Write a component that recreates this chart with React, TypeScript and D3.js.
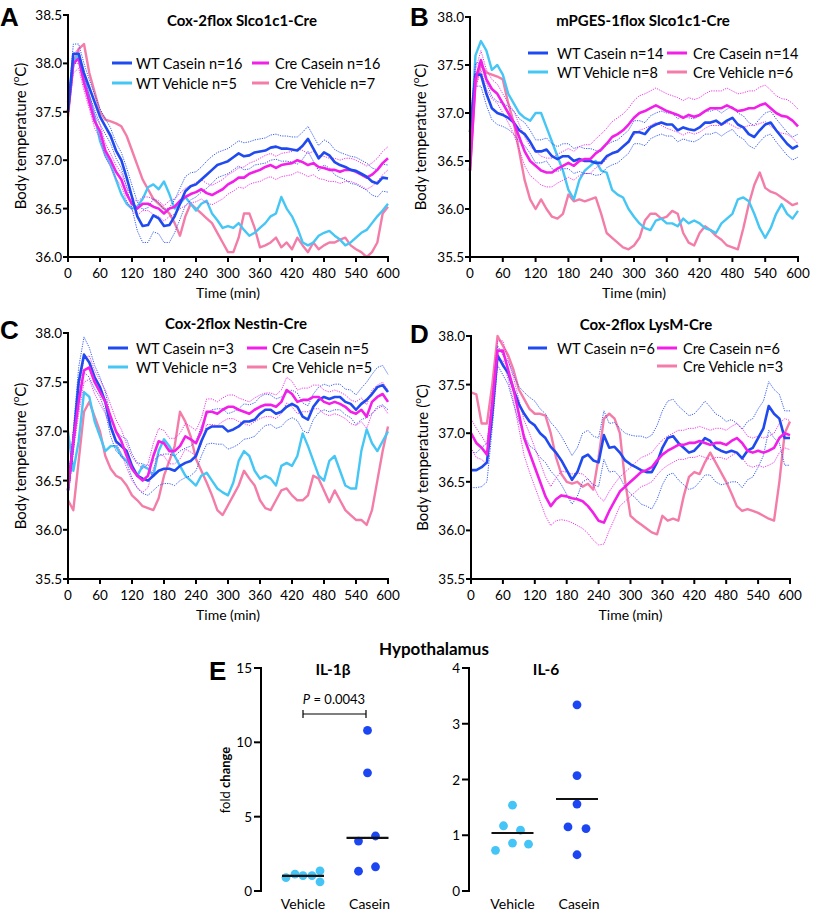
import React from 'react';
import * as d3 from 'd3';

// ---------- DATA ----------
const timeMin = d3.range(0, 601, 10);
const timeTicks = [0, 60, 120, 180, 240, 300, 360, 420, 480, 540, 600];
const tempTicksA = [36.0, 36.5, 37.0, 37.5, 38.0, 38.5];
const tempTicksBCD = [35.5, 36.0, 36.5, 37.0, 37.5, 38.0];

// Panel A: Cox-2flox Slco1c1-Cre
const aWtCasein = [
  37.5, 38.1, 38.1, 37.9, 37.75, 37.6, 37.45, 37.35, 37.25, 37.1,
  37.0, 36.82, 36.62, 36.42, 36.32, 36.33, 36.43, 36.4, 36.32, 36.33,
  36.42, 36.55, 36.68, 36.73, 36.75, 36.8, 36.85, 36.9, 36.95, 36.97,
  36.99, 37.03, 37.07, 37.04, 37.05, 37.08, 37.09, 37.1, 37.13, 37.14,
  37.12, 37.12, 37.11, 37.1, 37.15, 37.22, 37.12, 37.02, 37.08, 37.05,
  36.98, 36.95, 36.93, 36.9, 36.89, 36.86, 36.83, 36.78, 36.76, 36.82,
  36.81,
];
const aWtCaseinSem = [
  0.05, 0.1, 0.1, 0.1, 0.08, 0.08, 0.08, 0.08, 0.08, 0.08,
  0.08, 0.1, 0.12, 0.15, 0.17, 0.18, 0.17, 0.16, 0.17, 0.18,
  0.17, 0.16, 0.15, 0.14, 0.13, 0.13, 0.14, 0.14, 0.13, 0.13,
  0.13, 0.13, 0.13, 0.14, 0.14, 0.13, 0.13, 0.13, 0.13, 0.13,
  0.13, 0.13, 0.13, 0.14, 0.14, 0.13, 0.13, 0.13, 0.13, 0.13,
  0.13, 0.13, 0.13, 0.14, 0.14, 0.14, 0.14, 0.14, 0.14, 0.14,
  0.14,
];
const aCreCasein = [
  37.5, 38.0, 38.05, 37.8, 37.6, 37.4, 37.3, 37.1, 37.0, 36.88,
  36.8, 36.65, 36.55, 36.5, 36.55, 36.55, 36.52, 36.5, 36.45, 36.5,
  36.52, 36.58, 36.62, 36.65, 36.67, 36.7, 36.66, 36.64, 36.67, 36.7,
  36.75, 36.78, 36.82, 36.82, 36.86, 36.88, 36.9, 36.93, 36.95, 36.92,
  36.95, 36.96, 36.97, 37.0, 36.98, 36.95, 36.97, 36.93, 36.92, 36.9,
  36.9, 36.88, 36.9, 36.9, 36.88, 36.85, 36.82, 36.85, 36.9, 36.97,
  37.02,
];
const aCreCaseinSem = [
  0.05, 0.1, 0.1, 0.08, 0.07, 0.07, 0.07, 0.07, 0.07, 0.07,
  0.07, 0.07, 0.07, 0.07, 0.07, 0.07, 0.08, 0.08, 0.08, 0.08,
  0.08, 0.08, 0.09, 0.09, 0.1, 0.1, 0.1, 0.1, 0.1, 0.1,
  0.1, 0.1, 0.1, 0.11, 0.11, 0.11, 0.12, 0.12, 0.12, 0.12,
  0.12, 0.12, 0.12, 0.12, 0.12, 0.12, 0.12, 0.12, 0.12, 0.12,
  0.12, 0.12, 0.12, 0.12, 0.12, 0.12, 0.12, 0.12, 0.12, 0.12,
  0.12,
];
const aWtVehicle = [
  37.6, 38.0, 38.1, 37.85, 37.65, 37.45, 37.2, 37.05, 36.95, 36.8,
  36.65, 36.55, 36.5, 36.52, 36.6, 36.72, 36.75, 36.7, 36.78, 36.65,
  36.5, 36.55, 36.62, 36.55, 36.48, 36.55, 36.58, 36.45, 36.38, 36.3,
  36.32, 36.3, 36.35, 36.28, 36.22, 36.25, 36.3, 36.35, 36.42, 36.45,
  36.62, 36.5, 36.42, 36.3, 36.15, 36.12, 36.15, 36.22, 36.25, 36.27,
  36.22, 36.18, 36.12, 36.15, 36.2, 36.25, 36.28, 36.35, 36.42, 36.48,
  36.55,
];
const aCreVehicle = [
  37.45, 38.0, 38.15, 38.2, 37.9, 37.7, 37.5, 37.42, 37.4, 37.38,
  37.35, 37.25, 37.1, 36.95, 36.8, 36.7, 36.6, 36.55, 36.5, 36.45,
  36.35, 36.22, 36.42, 36.55, 36.5, 36.45, 36.4, 36.35, 36.25, 36.15,
  36.05, 36.05, 36.2, 36.45, 36.45, 36.3, 36.1, 36.12, 36.15, 36.2,
  36.1, 36.15, 36.08, 36.2, 36.12, 36.05, 36.15, 36.08, 36.12, 36.15,
  36.15, 36.18, 36.2, 36.12, 36.08, 36.05, 36.0, 36.05, 36.15, 36.45,
  36.52,
];

// Panel B: mPGES-1flox Slco1c1-Cre
const bWtCasein = [
  36.8, 37.4, 37.4, 37.2, 37.05, 37.0, 36.98, 36.95, 36.9, 36.82,
  36.78, 36.7, 36.6, 36.6, 36.62, 36.55, 36.52, 36.55, 36.55, 36.5,
  36.52, 36.5, 36.5, 36.48, 36.48, 36.55, 36.58, 36.6, 36.65, 36.7,
  36.8, 36.8, 36.78, 36.85, 36.88, 36.9, 36.88, 36.88, 36.82, 36.85,
  36.83, 36.82, 36.85, 36.9, 36.9, 36.92, 36.88, 36.92, 36.95, 36.88,
  36.85, 36.78, 36.75, 36.82, 36.88, 36.9, 36.82, 36.75, 36.68, 36.63,
  36.66,
];
const bWtCaseinSem = [
  0.05, 0.12, 0.12, 0.12, 0.12, 0.12, 0.12, 0.12, 0.12, 0.12,
  0.12, 0.12, 0.12, 0.12, 0.12, 0.13, 0.13, 0.13, 0.13, 0.13,
  0.13, 0.13, 0.13, 0.13, 0.12, 0.12, 0.12, 0.12, 0.12, 0.12,
  0.12, 0.12, 0.12, 0.12, 0.12, 0.12, 0.12, 0.12, 0.12, 0.12,
  0.12, 0.12, 0.12, 0.12, 0.12, 0.12, 0.12, 0.12, 0.12, 0.12,
  0.12, 0.12, 0.12, 0.12, 0.12, 0.12, 0.12, 0.12, 0.12, 0.12,
  0.12,
];
const bCreCasein = [
  36.4, 37.35, 37.55, 37.35, 37.25, 37.2, 37.1, 37.0, 36.9, 36.75,
  36.6, 36.5, 36.45, 36.4, 36.38, 36.38, 36.42, 36.45, 36.48, 36.45,
  36.5, 36.52, 36.52, 36.58, 36.62, 36.68, 36.75, 36.78, 36.82, 36.88,
  36.95, 37.0, 37.02, 37.05, 37.08, 37.05, 37.02, 37.0, 36.98, 36.95,
  36.98, 36.96, 36.98, 37.02, 37.05, 37.05, 37.05, 37.08, 37.05, 37.02,
  37.03, 37.05, 37.05, 37.08, 37.1, 37.05, 37.0, 36.97, 36.96, 36.92,
  36.86,
];
const bCreCaseinSem = [
  0.05, 0.1, 0.1, 0.1, 0.1, 0.1, 0.1, 0.1, 0.12, 0.13,
  0.15, 0.15, 0.15, 0.15, 0.15, 0.15, 0.15, 0.15, 0.15, 0.15,
  0.15, 0.15, 0.15, 0.15, 0.16, 0.16, 0.16, 0.17, 0.17, 0.17,
  0.18, 0.18, 0.18, 0.18, 0.18, 0.18, 0.18, 0.18, 0.18, 0.18,
  0.18, 0.18, 0.18, 0.18, 0.18, 0.18, 0.18, 0.18, 0.18, 0.18,
  0.18, 0.18, 0.18, 0.19, 0.19, 0.19, 0.18, 0.18, 0.18, 0.18,
  0.18,
];
const bWtVehicle = [
  36.6, 37.6, 37.75, 37.65, 37.45, 37.5, 37.4, 37.2, 37.1, 37.0,
  36.95, 36.92, 37.0, 37.0, 36.85, 36.7, 36.55, 36.4, 36.2, 36.1,
  36.3, 36.4, 36.45, 36.5, 36.4, 36.38, 36.2, 36.15, 36.12, 36.0,
  35.92, 35.85, 35.8, 35.78, 35.88, 35.9, 35.85, 35.85, 35.82, 35.9,
  35.85, 35.88, 35.85, 35.8, 35.78, 35.75, 35.85, 35.9, 35.95, 36.1,
  36.12, 36.08, 35.95, 35.8, 35.7, 35.8, 35.95, 36.05, 35.95, 35.9,
  35.98,
];
const bCreVehicle = [
  36.4, 37.3, 37.5, 37.42, 37.4, 37.38, 37.35, 37.1, 36.9, 36.6,
  36.3, 36.1, 36.0, 36.1, 36.0, 35.92, 35.9, 35.95, 36.15, 36.08,
  36.1, 36.08, 36.1, 36.12, 35.95, 35.75, 35.7, 35.65, 35.6, 35.58,
  35.62, 35.7, 35.88, 35.95, 35.95, 35.9, 35.92, 35.98, 35.95, 35.75,
  35.65, 35.62, 35.75, 35.82, 35.78, 35.72, 35.68, 35.62, 35.6, 35.58,
  35.8, 36.05, 36.25, 36.38, 36.22, 36.18, 36.16, 36.12, 36.08, 36.04,
  36.06,
];

// Panel C: Cox-2flox Nestin-Cre
const cWtCasein = [
  36.4, 36.9, 37.5, 37.78, 37.7, 37.55, 37.45, 37.3, 37.05, 36.9,
  36.85, 36.8, 36.65, 36.55, 36.52, 36.5, 36.55, 36.6, 36.62, 36.62,
  36.6, 36.65, 36.68, 36.7, 36.75, 36.9, 37.02, 37.05, 37.05, 37.05,
  37.0, 37.02, 37.05, 37.1, 37.1, 37.12, 37.18, 37.22, 37.22, 37.18,
  37.2, 37.25, 37.28, 37.25, 37.15, 37.12, 37.25, 37.32, 37.35, 37.33,
  37.35, 37.35, 37.3, 37.28, 37.22, 37.28, 37.32, 37.38, 37.45, 37.47,
  37.4,
];
const cWtCaseinSem = [
  0.05, 0.12, 0.15, 0.18, 0.15, 0.12, 0.1, 0.1, 0.1, 0.1,
  0.1, 0.12, 0.12, 0.13, 0.15, 0.15, 0.15, 0.15, 0.15, 0.15,
  0.15, 0.15, 0.15, 0.15, 0.15, 0.15, 0.15, 0.17, 0.18, 0.18,
  0.18, 0.18, 0.18, 0.18, 0.17, 0.17, 0.17, 0.16, 0.15, 0.15,
  0.15, 0.14, 0.14, 0.14, 0.14, 0.14, 0.13, 0.13, 0.13, 0.13,
  0.13, 0.13, 0.13, 0.14, 0.15, 0.16, 0.18, 0.2, 0.2, 0.2,
  0.18,
];
const cCreCasein = [
  36.4, 36.9, 37.3, 37.62, 37.65, 37.5, 37.4, 37.3, 37.15, 37.0,
  36.9, 36.75, 36.62, 36.55, 36.5, 36.55, 36.75, 36.9, 36.88, 36.8,
  36.8, 36.85, 36.95, 36.92, 36.88, 37.0, 37.2, 37.2, 37.18, 37.22,
  37.25, 37.25, 37.22, 37.2, 37.18, 37.22, 37.25, 37.27, 37.27, 37.25,
  37.3, 37.42, 37.38, 37.3, 37.32, 37.32, 37.35, 37.35, 37.3, 37.28,
  37.3, 37.28, 37.25, 37.2, 37.18, 37.22, 37.15, 37.3, 37.35, 37.38,
  37.3,
];
const cCreCaseinSem = [
  0.05, 0.1, 0.12, 0.12, 0.12, 0.12, 0.12, 0.12, 0.12, 0.12,
  0.12, 0.12, 0.12, 0.12, 0.12, 0.12, 0.13, 0.13, 0.13, 0.13,
  0.13, 0.13, 0.13, 0.13, 0.13, 0.13, 0.13, 0.13, 0.12, 0.12,
  0.12, 0.12, 0.12, 0.12, 0.12, 0.12, 0.12, 0.12, 0.12, 0.12,
  0.12, 0.13, 0.13, 0.12, 0.12, 0.12, 0.12, 0.12, 0.12, 0.12,
  0.12, 0.12, 0.12, 0.12, 0.12, 0.12, 0.12, 0.12, 0.12, 0.12,
  0.12,
];
const cWtVehicle = [
  37.0, 36.6, 36.9, 37.4, 37.35, 37.1, 36.95, 36.8, 36.85, 36.85,
  36.75, 36.7, 36.62, 36.55, 36.65, 36.62, 36.55, 36.8, 36.92, 36.85,
  36.75, 36.65, 36.55, 36.5, 36.45, 36.55, 36.58, 36.5, 36.42, 36.38,
  36.35, 36.48, 36.7, 36.8, 36.75, 36.6, 36.52, 36.55, 36.52, 36.45,
  36.65, 36.68, 36.65, 36.75, 36.98, 36.85, 36.7, 36.55, 36.5, 36.7,
  36.75, 36.6, 36.45, 36.42, 36.42, 36.8, 37.02, 36.88, 36.8, 36.9,
  37.0,
];
const cCreVehicle = [
  36.3, 36.2, 36.7, 37.2, 37.3, 37.15, 37.0, 36.75, 36.62, 36.55,
  36.52, 36.45, 36.35, 36.3, 36.24, 36.22, 36.2, 36.32, 36.55, 36.7,
  36.85, 37.2, 37.1, 36.95, 36.72, 36.6, 36.48, 36.35, 36.2, 36.15,
  36.25, 36.35, 36.45, 36.6, 36.52, 36.45, 36.3, 36.22, 36.2, 36.3,
  36.4, 36.42, 36.35, 36.3, 36.3, 36.35, 36.55, 36.52, 36.4, 36.28,
  36.4, 36.3, 36.2, 36.15, 36.1, 36.1, 36.05, 36.2, 36.5, 36.8,
  37.05,
];

// Panel D: Cox-2flox LysM-Cre
const dWtCasein = [
  36.62, 36.62, 36.65, 36.7, 37.2, 37.8, 37.7, 37.62, 37.45, 37.3,
  37.2, 37.12, 37.08, 37.0, 36.95, 36.86, 36.8, 36.72, 36.62, 36.52,
  36.6, 36.75, 36.78, 36.72, 36.7, 36.98, 36.85, 36.86, 36.8, 36.72,
  36.68, 36.65, 36.62, 36.6, 36.6, 36.7, 36.85, 36.95, 36.97, 36.9,
  36.85, 36.8, 36.82, 36.88, 36.95, 36.92, 36.85, 36.82, 36.8, 36.82,
  36.8, 36.74, 36.82, 36.85, 36.95, 37.05, 37.28, 37.2, 37.15, 36.95,
  36.95,
];
const dWtCaseinSem = [
  0.18, 0.18, 0.2, 0.2, 0.15, 0.1, 0.1, 0.12, 0.15, 0.18,
  0.22, 0.25, 0.25, 0.25, 0.25, 0.25, 0.25, 0.25, 0.25, 0.25,
  0.25, 0.25, 0.25, 0.25, 0.25, 0.25, 0.25, 0.25, 0.25, 0.28,
  0.3, 0.32, 0.35, 0.35, 0.38, 0.38, 0.38, 0.38, 0.38, 0.38,
  0.38, 0.38, 0.38, 0.38, 0.38, 0.35, 0.35, 0.35, 0.32, 0.32,
  0.3, 0.3, 0.3, 0.3, 0.3, 0.28, 0.25, 0.25, 0.25, 0.28,
  0.28,
];
const dCreCasein = [
  37.0, 36.9, 36.85, 36.78, 37.3, 37.85, 37.85, 37.65, 37.45, 37.2,
  36.95, 36.8, 36.65, 36.5, 36.35, 36.25, 36.32, 36.36, 36.35, 36.33,
  36.32, 36.3, 36.25, 36.18, 36.1, 36.08, 36.2, 36.3, 36.4, 36.45,
  36.5, 36.55, 36.6, 36.62, 36.65, 36.72, 36.78, 36.82, 36.85, 36.88,
  36.88, 36.9, 36.9, 36.92, 36.9, 36.88, 36.9, 36.9, 36.88, 36.92,
  36.95, 36.9, 36.82, 36.8, 36.82, 36.8, 36.82, 36.85, 36.95, 37.0,
  36.98,
];
const dCreCaseinSem = [
  0.15, 0.15, 0.12, 0.1, 0.1, 0.1, 0.1, 0.1, 0.12, 0.15,
  0.18, 0.2, 0.2, 0.2, 0.2, 0.2, 0.22, 0.25, 0.25, 0.25,
  0.27, 0.28, 0.28, 0.28, 0.25, 0.22, 0.2, 0.18, 0.15, 0.15,
  0.15, 0.15, 0.15, 0.15, 0.15, 0.15, 0.15, 0.15, 0.15, 0.15,
  0.15, 0.15, 0.15, 0.15, 0.15, 0.15, 0.15, 0.15, 0.15, 0.15,
  0.15, 0.15, 0.15, 0.15, 0.15, 0.15, 0.15, 0.15, 0.15, 0.15,
  0.15,
];
const dCreVehicle = [
  37.42, 37.4, 37.1, 37.1, 37.5, 38.0, 37.9, 37.8, 37.65, 37.45,
  37.35, 37.25, 37.2, 37.2, 37.18, 37.0, 36.75, 36.58, 36.5, 36.48,
  36.5, 36.45, 36.48, 36.42, 36.75, 37.15, 37.2, 37.15, 37.0, 36.5,
  36.15, 36.1, 36.06, 36.02, 35.98, 35.96, 36.15, 36.1, 36.12, 36.1,
  36.35, 36.55, 36.6, 36.58, 36.7, 36.8, 36.7, 36.6, 36.5, 36.38,
  36.25, 36.2, 36.22, 36.2, 36.18, 36.15, 36.12, 36.1, 36.5, 37.0,
  37.12,
];

// Panel E: Hypothalamus fold change
const groups = ['Vehicle', 'Casein'];
const il1bVehicle = [0.9, 1.13, 1.04, 1.04, 1.36, 0.62];
const il1bCasein = [10.8, 7.95, 3.36, 3.7, 1.63, 1.33];
const il1bMedians = [1.02, 3.58];
const il1bTicks = [0, 5, 10, 15];
const il6Vehicle = [0.73, 1.17, 1.54, 0.86, 1.09, 0.84];
const il6Casein = [3.34, 2.07, 1.56, 1.15, 1.12, 0.65];
const il6Medians = [1.04, 1.65];
const il6Ticks = [0, 1, 2, 3, 4];

// ---------- STYLE ----------
const FONT = 'Lato, "Open Sans", "Liberation Sans", sans-serif';
const BLUE = '#1f4af0';
const CYAN = '#45c6f5';
const MAGENTA = '#f21fe8';
const PINK = '#f47ca8';
const DOT_VEH = '#45c4f6';
const DOT_CAS = '#1b46f2';

type Series = { values: number[]; color: string; sem?: number[] };
type LegendItem = { label: string; color: string; col: number; row: number };

type PanelProps = {
  letter: string;
  letterY: number;
  letterX: number;
  title: string;
  titleX: number;
  titleY: number;
  xRange: [number, number];
  yRange: [number, number];
  domain: [number, number];
  yTicks: number[];
  series: Series[];
  legend: LegendItem[];
  legendCols: { lineX: number; lineW: number; textX: number }[];
  legendRows: number[];
  yLabelX: number;
};

function TempPanel(p: PanelProps) {
  const x = d3.scaleLinear().domain([0, 600]).range(p.xRange);
  const y = d3.scaleLinear().domain(p.domain).range(p.yRange);
  const line = (vals: number[]) =>
    d3
      .line<number>()
      .x((_, i) => x(timeMin[i]))
      .y((d) => y(d))(vals) || '';
  const x0 = p.xRange[0];
  const yb = p.yRange[0];
  const yt = p.yRange[1];
  const xr = p.xRange[1];
  const semSeries = p.series.filter((s) => s.sem);
  return (
    <g>
      <text x={p.letterX} y={p.letterY} fontFamily='"Liberation Sans", Arial, sans-serif' fontWeight="bold" fontSize={26}>
        {p.letter}
      </text>
      <text x={p.titleX} y={p.titleY} textAnchor="middle" dominantBaseline="central" fontFamily={FONT} fontWeight="bold" fontSize={15}>
        {p.title}
      </text>
      {p.series
        .filter((s) => !s.sem)
        .map((s, i) => (
          <path key={'v' + i} d={line(s.values)} fill="none" stroke={s.color} strokeWidth={2.4} strokeLinejoin="round" />
        ))}
      {semSeries.map((s, i) => (
        <g key={'s' + i}>
          <path d={line(s.values.map((v, j) => v + (s.sem as number[])[j]))} fill="none" stroke={s.color} strokeWidth={0.9} strokeDasharray="1.2 1.2" />
          <path d={line(s.values.map((v, j) => v - (s.sem as number[])[j]))} fill="none" stroke={s.color} strokeWidth={0.9} strokeDasharray="1.2 1.2" />
        </g>
      ))}
      {semSeries.map((s, i) => (
        <path key={'c' + i} d={line(s.values)} fill="none" stroke={s.color} strokeWidth={2.6} strokeLinejoin="round" />
      ))}
      <line x1={x0} x2={x0} y1={yt - 1} y2={yb + 1} stroke="#000" strokeWidth={2} />
      <line x1={x0 - 1} x2={xr + 1} y1={yb} y2={yb} stroke="#000" strokeWidth={2} />
      {p.yTicks.map((t) => (
        <g key={'yt' + t}>
          <line x1={x0 - 5} x2={x0} y1={y(t)} y2={y(t)} stroke="#000" strokeWidth={2} />
          <text x={x0 - 6} y={y(t)} textAnchor="end" dominantBaseline="central" fontFamily={FONT} fontSize={13.5}>
            {t.toFixed(1)}
          </text>
        </g>
      ))}
      {timeTicks.map((t) => (
        <g key={'xt' + t}>
          <line x1={x(t)} x2={x(t)} y1={yb} y2={yb + 5} stroke="#000" strokeWidth={2} />
          <text x={x(t)} y={yb + 16} textAnchor="middle" dominantBaseline="central" fontFamily={FONT} fontSize={13.5}>
            {t}
          </text>
        </g>
      ))}
      <text x={(x0 + xr) / 2} y={yb + 35} textAnchor="middle" dominantBaseline="central" fontFamily={FONT} fontSize={14}>
        Time (min)
      </text>
      <text
        transform={`translate(${p.yLabelX},${(yt + yb) / 2}) rotate(-90)`}
        textAnchor="middle"
        dominantBaseline="central"
        fontFamily={FONT}
        fontSize={15}
      >
        Body temperature (<tspan fontSize={10} dy={-5}>o</tspan>
        <tspan dy={5}>C)</tspan>
      </text>
      {p.legend.map((l, i) => {
        const c = p.legendCols[l.col];
        const ly = p.legendRows[l.row];
        return (
          <g key={'lg' + i}>
            <line x1={c.lineX} x2={c.lineX + c.lineW} y1={ly} y2={ly} stroke={l.color} strokeWidth={3} />
            <text x={c.textX} y={ly} dominantBaseline="central" fontFamily={FONT} fontSize={14.5}>
              {l.label}
            </text>
          </g>
        );
      })}
    </g>
  );
}

function DotPlot(props: {
  axisX: number;
  catX: [number, number];
  domain: [number, number];
  ticks: number[];
  vehicle: number[];
  casein: number[];
  medians: number[];
  vehOffsets: number[];
  casOffsets: number[];
  title: string;
  titleX: number;
}) {
  const y = d3.scaleLinear().domain(props.domain).range([891, 668]);
  const cx = d3.scalePoint<string>().domain(groups).range(props.catX);
  const r = 4.4;
  return (
    <g>
      <text x={props.titleX} y={669} textAnchor="middle" dominantBaseline="central" fontFamily={FONT} fontWeight="bold" fontSize={15.5}>
        {props.title}
      </text>
      <line x1={props.axisX} x2={props.axisX} y1={667} y2={892} stroke="#000" strokeWidth={2} />
      {props.ticks.map((t) => (
        <g key={t}>
          <line x1={props.axisX - 7} x2={props.axisX} y1={y(t)} y2={y(t)} stroke="#000" strokeWidth={2} />
          <text x={props.axisX - 9} y={y(t)} textAnchor="end" dominantBaseline="central" fontFamily={FONT} fontSize={13.5}>
            {t}
          </text>
        </g>
      ))}
      {props.vehicle.map((v, i) => (
        <circle key={'v' + i} cx={(cx('Vehicle') as number) + props.vehOffsets[i]} cy={y(v)} r={r} fill={DOT_VEH} />
      ))}
      {props.casein.map((v, i) => (
        <circle key={'c' + i} cx={(cx('Casein') as number) + props.casOffsets[i]} cy={y(v)} r={r} fill={DOT_CAS} />
      ))}
      {groups.map((g, i) => (
        <line key={'m' + g} x1={(cx(g) as number) - 21} x2={(cx(g) as number) + 21} y1={y(props.medians[i])} y2={y(props.medians[i])} stroke="#111" strokeWidth={2.2} />
      ))}
      {groups.map((g) => (
        <text key={'l' + g} x={(cx(g) as number) + (g === 'Casein' ? 2 : 0)} y={903} textAnchor="middle" dominantBaseline="central" fontFamily={FONT} fontSize={14}>
          {g}
        </text>
      ))}
    </g>
  );
}

export default function App() {
  const fourLegend = (n: string[]): LegendItem[] => [
    { label: `WT Casein n=${n[0]}`, color: BLUE, col: 0, row: 0 },
    { label: `WT Vehicle n=${n[1]}`, color: CYAN, col: 0, row: 1 },
    { label: `Cre Casein n=${n[2]}`, color: MAGENTA, col: 1, row: 0 },
    { label: `Cre Vehicle n=${n[3]}`, color: PINK, col: 1, row: 1 },
  ];
  return (
    <svg width={820} height={912} style={{ display: 'block', position: 'absolute', left: 0, top: 0 }}>
      <rect width={820} height={912} fill="#fff" />
      <TempPanel
        letter="A"
        letterX={0}
        letterY={26}
        title="Cox-2flox Slco1c1-Cre"
        titleX={242}
        titleY={20}
        xRange={[68, 388]}
        yRange={[257, 15]}
        domain={[36.0, 38.5]}
        yTicks={tempTicksA}
        yLabelX={20}
        series={[
          { values: aCreVehicle, color: PINK },
          { values: aWtVehicle, color: CYAN },
          { values: aCreCasein, color: MAGENTA, sem: aCreCaseinSem },
          { values: aWtCasein, color: BLUE, sem: aWtCaseinSem },
        ]}
        legend={fourLegend(['16', '5', '16', '7'])}
        legendCols={[
          { lineX: 112, lineW: 20, textX: 136 },
          { lineX: 252, lineW: 17, textX: 275 },
        ]}
        legendRows={[63, 83]}
      />
      <TempPanel
        letter="B"
        letterX={410}
        letterY={26}
        title="mPGES-1flox Slco1c1-Cre"
        titleX={643}
        titleY={20}
        xRange={[470, 798]}
        yRange={[257, 17]}
        domain={[35.5, 38.0]}
        yTicks={tempTicksBCD}
        yLabelX={420}
        series={[
          { values: bCreVehicle, color: PINK },
          { values: bWtVehicle, color: CYAN },
          { values: bWtCasein, color: BLUE, sem: bWtCaseinSem },
          { values: bCreCasein, color: MAGENTA, sem: bCreCaseinSem },
        ]}
        legend={fourLegend(['14', '8', '14', '6'])}
        legendCols={[
          { lineX: 528, lineW: 20, textX: 557 },
          { lineX: 667, lineW: 20, textX: 693 },
        ]}
        legendRows={[53, 72]}
      />
      <TempPanel
        letter="C"
        letterX={0}
        letterY={339}
        title="Cox-2flox Nestin-Cre"
        titleX={236}
        titleY={323}
        xRange={[68, 388]}
        yRange={[579, 333]}
        domain={[35.5, 38.0]}
        yTicks={tempTicksBCD}
        yLabelX={20}
        series={[
          { values: cCreVehicle, color: PINK },
          { values: cWtVehicle, color: CYAN },
          { values: cWtCasein, color: BLUE, sem: cWtCaseinSem },
          { values: cCreCasein, color: MAGENTA, sem: cCreCaseinSem },
        ]}
        legend={fourLegend(['3', '3', '5', '5'])}
        legendCols={[
          { lineX: 108, lineW: 20, textX: 136 },
          { lineX: 247, lineW: 20, textX: 272 },
        ]}
        legendRows={[348, 367]}
      />
      <TempPanel
        letter="D"
        letterX={410}
        letterY={343}
        title="Cox-2flox LysM-Cre"
        titleX={646}
        titleY={324}
        xRange={[471, 790]}
        yRange={[579, 336]}
        domain={[35.5, 38.0]}
        yTicks={tempTicksBCD}
        yLabelX={422}
        series={[
          { values: dCreVehicle, color: PINK },
          { values: dWtCasein, color: BLUE, sem: dWtCaseinSem },
          { values: dCreCasein, color: MAGENTA, sem: dCreCaseinSem },
        ]}
        legend={[
          { label: 'WT Casein n=6', color: BLUE, col: 0, row: 0 },
          { label: 'Cre Casein n=6', color: MAGENTA, col: 1, row: 0 },
          { label: 'Cre Vehicle n=3', color: PINK, col: 1, row: 1 },
        ]}
        legendCols={[
          { lineX: 528, lineW: 19, textX: 557 },
          { lineX: 657, lineW: 20, textX: 683 },
        ]}
        legendRows={[348, 366]}
      />
      <text x={209} y={680} fontFamily='"Liberation Sans", Arial, sans-serif' fontWeight="bold" fontSize={26}>
        E
      </text>
      <text x={434} y={648} textAnchor="middle" dominantBaseline="central" fontFamily={FONT} fontWeight="bold" fontSize={17}>
        Hypothalamus
      </text>
      <text transform="translate(225,780) rotate(-90)" textAnchor="middle" dominantBaseline="central" fontFamily={FONT} fontSize={13}>
        fold <tspan fontWeight="bold">change</tspan>
      </text>
      <DotPlot
        axisX={261}
        catX={[303, 367.5]}
        domain={[0, 15]}
        ticks={il1bTicks}
        vehicle={il1bVehicle}
        casein={il1bCasein}
        medians={il1bMedians}
        vehOffsets={[-17, -8, 0, 9, 17, 17]}
        casOffsets={[0, 0, -9, 8, 8, -9]}
        title="IL-1β"
        titleX={333}
      />
      <DotPlot
        axisX={469}
        catX={[512.5, 577]}
        domain={[0, 4]}
        ticks={il6Ticks}
        vehicle={il6Vehicle}
        casein={il6Casein}
        medians={il6Medians}
        vehOffsets={[-17, -9, 0, 0, 8, 16]}
        casOffsets={[0, 0, 0, -9, 9, 0]}
        title="IL-6"
        titleX={546}
      />
      <line x1={303} x2={366} y1={714} y2={714} stroke="#000" strokeWidth={1.2} />
      <line x1={303} x2={303} y1={710} y2={718} stroke="#000" strokeWidth={1.2} />
      <line x1={366} x2={366} y1={710} y2={718} stroke="#000" strokeWidth={1.2} />
      <text x={334} y={699} textAnchor="middle" dominantBaseline="central" fontFamily={FONT} fontSize={13}>
        <tspan fontStyle="italic">P</tspan> = 0.0043
      </text>
    </svg>
  );
}
